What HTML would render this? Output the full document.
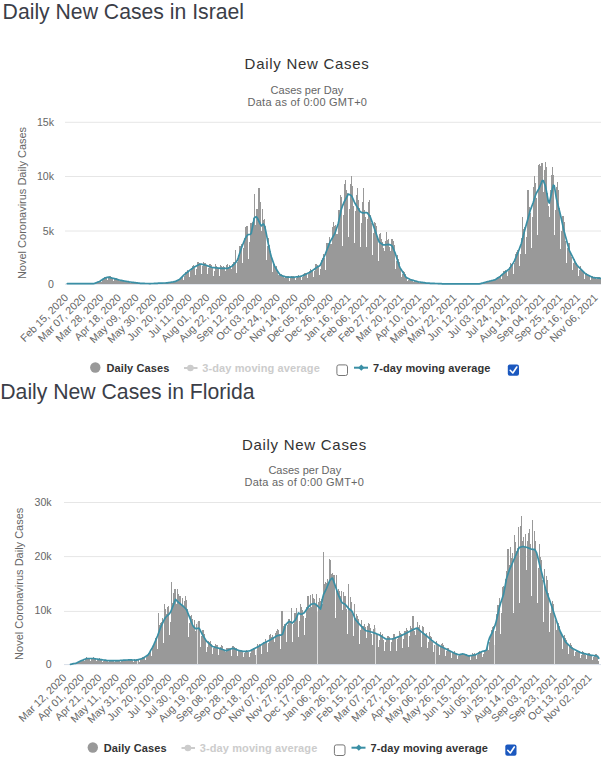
<!DOCTYPE html>
<html><head><meta charset="utf-8">
<style>
html,body{margin:0;padding:0;background:#fff;width:601px;height:768px;overflow:hidden}
svg{display:block;font-family:"Liberation Sans",sans-serif}
.pt{font-size:21.2px;fill:#3b3e48}
.ct{font-size:15px;fill:#333;letter-spacing:0.72px}
.st{font-size:11px;fill:#666}
.yl{font-size:10.6px;fill:#666}
.yt{font-size:11px;fill:#666}
.xl{font-size:10.6px;fill:#666}
.lg{font-size:11px;font-weight:bold;fill:#333;letter-spacing:0.1px}
.lgo{font-size:11px;font-weight:bold;fill:#ccc;letter-spacing:0.1px}
.grid{stroke:#e6e6e6;stroke-width:1}
.bars{fill:#999;shape-rendering:crispEdges}
.ln{fill:none;stroke:#3a8fa5;stroke-width:1.7;stroke-linejoin:round;stroke-linecap:round}
</style></head><body>
<svg width="601" height="768" viewBox="0 0 601 768">
<!-- ISRAEL -->
<text class="pt" x="2.6" y="18.8">Daily New Cases in Israel</text>
<text class="ct" x="307.1" y="69.1" text-anchor="middle">Daily New Cases</text>
<text class="st" x="307" y="93.8" text-anchor="middle">Cases per Day</text>
<text class="st" x="307.4" y="106" text-anchor="middle"><tspan letter-spacing="0.24">Data as of 0:00 GMT+0</tspan></text>
<path class="grid" d="M65 122.3H601M65 176.5H601M65 231H601"/>
<g class="yl" text-anchor="end">
<text x="54" y="126.2">15k</text><text x="54" y="180.4">10k</text><text x="54" y="234.8">5k</text><text x="54" y="287.6">0</text>
</g>
<text class="yt" transform="translate(26 203) rotate(-90)" text-anchor="middle">Novel Coronavirus Daily Cases</text>
<path d="M65 284.2H601" stroke="#d8dee8" stroke-width="1"/>
<path class="bars" d="M67.00 283.59h1.000V283.70h-1.000zM68.00 283.58h1.000V283.70h-1.000zM69.00 283.59h1.000V283.70h-1.000zM70.00 283.59h1.000V283.70h-1.000zM71.00 283.60h1.000V283.70h-1.000zM72.00 283.62h1.000V283.70h-1.000zM73.00 283.58h1.000V283.70h-1.000zM74.00 283.58h1.000V283.70h-1.000zM75.00 283.59h1.000V283.70h-1.000zM76.00 283.58h1.000V283.70h-1.000zM77.00 283.65h1.000V283.70h-1.000zM78.00 283.62h1.000V283.70h-1.000zM79.00 283.58h1.000V283.70h-1.000zM80.00 283.59h1.000V283.70h-1.000zM81.00 283.58h1.000V283.70h-1.000zM82.00 283.60h1.000V283.70h-1.000zM83.00 283.65h1.000V283.70h-1.000zM84.00 283.61h1.000V283.70h-1.000zM85.00 283.59h1.000V283.70h-1.000zM86.00 283.58h1.000V283.70h-1.000zM87.00 283.59h1.000V283.70h-1.000zM88.00 283.61h1.000V283.70h-1.000zM89.00 283.65h1.000V283.70h-1.000zM90.00 283.62h1.000V283.70h-1.000zM91.00 283.58h1.000V283.70h-1.000zM92.00 283.57h1.000V283.70h-1.000zM93.00 283.58h1.000V283.70h-1.000zM94.00 283.35h1.000V283.70h-1.000zM95.00 283.34h1.000V283.70h-1.000zM96.00 282.83h1.000V283.70h-1.000zM97.00 282.02h1.000V283.70h-1.000zM98.00 281.51h1.000V283.70h-1.000zM99.00 281.24h1.000V283.70h-1.000zM100.00 280.97h1.000V283.70h-1.000zM101.00 281.86h1.000V283.70h-1.000zM102.00 280.34h1.000V283.70h-1.000zM103.00 277.74h1.000V283.70h-1.000zM104.00 277.39h1.000V283.70h-1.000zM105.00 277.44h1.000V283.70h-1.000zM106.00 277.74h1.000V283.70h-1.000zM107.00 280.44h1.000V283.70h-1.000zM108.00 277.95h1.000V283.70h-1.000zM109.00 275.98h1.000V283.70h-1.000zM110.00 276.27h1.000V283.70h-1.000zM111.00 276.92h1.000V283.70h-1.000zM112.00 277.64h1.000V283.70h-1.000zM113.00 280.92h1.000V283.70h-1.000zM114.00 277.66h1.000V283.70h-1.000zM115.00 277.61h1.000V283.70h-1.000zM116.00 278.21h1.000V283.70h-1.000zM117.00 278.97h1.000V283.70h-1.000zM118.00 279.55h1.000V283.70h-1.000zM119.00 280.54h1.000V283.70h-1.000zM120.00 279.78h1.000V283.70h-1.000zM121.00 279.97h1.000V283.70h-1.000zM122.00 280.42h1.000V283.70h-1.000zM123.00 280.31h1.000V283.70h-1.000zM124.00 280.72h1.000V283.70h-1.000zM125.00 281.51h1.000V283.70h-1.000zM126.00 281.08h1.000V283.70h-1.000zM127.00 281.25h1.000V283.70h-1.000zM128.00 281.47h1.000V283.70h-1.000zM129.00 281.57h1.000V283.70h-1.000zM130.00 282.96h1.000V283.70h-1.000zM131.00 282.42h1.000V283.70h-1.000zM132.00 282.23h1.000V283.70h-1.000zM133.00 282.13h1.000V283.70h-1.000zM134.00 282.41h1.000V283.70h-1.000zM135.00 282.69h1.000V283.70h-1.000zM136.00 283.29h1.000V283.70h-1.000zM137.00 283.04h1.000V283.70h-1.000zM138.00 283.02h1.000V283.70h-1.000zM139.00 283.14h1.000V283.70h-1.000zM140.00 283.32h1.000V283.70h-1.000zM141.00 283.37h1.000V283.70h-1.000zM142.00 283.54h1.000V283.70h-1.000zM143.00 283.44h1.000V283.70h-1.000zM144.00 283.40h1.000V283.70h-1.000zM145.00 283.43h1.000V283.70h-1.000zM146.00 283.49h1.000V283.70h-1.000zM147.00 283.52h1.000V283.70h-1.000zM148.00 283.62h1.000V283.70h-1.000zM149.00 283.60h1.000V283.70h-1.000zM150.00 283.58h1.000V283.70h-1.000zM151.00 283.49h1.000V283.70h-1.000zM152.00 283.46h1.000V283.70h-1.000zM153.00 283.45h1.000V283.70h-1.000zM154.00 283.56h1.000V283.70h-1.000zM155.00 283.41h1.000V283.70h-1.000zM156.00 283.24h1.000V283.70h-1.000zM157.00 283.19h1.000V283.70h-1.000zM158.00 283.21h1.000V283.70h-1.000zM159.00 283.22h1.000V283.70h-1.000zM160.00 283.41h1.000V283.70h-1.000zM161.00 283.22h1.000V283.70h-1.000zM162.00 282.99h1.000V283.70h-1.000zM163.00 282.93h1.000V283.70h-1.000zM164.00 282.91h1.000V283.70h-1.000zM165.00 283.01h1.000V283.70h-1.000zM166.00 283.30h1.000V283.70h-1.000zM167.00 282.64h1.000V283.70h-1.000zM168.00 282.33h1.000V283.70h-1.000zM169.00 282.27h1.000V283.70h-1.000zM170.00 282.14h1.000V283.70h-1.000zM171.00 282.22h1.000V283.70h-1.000zM172.00 282.14h1.000V283.70h-1.000zM173.00 281.68h1.000V283.70h-1.000zM174.00 281.43h1.000V283.70h-1.000zM175.00 280.97h1.000V283.70h-1.000zM176.00 280.45h1.000V283.70h-1.000zM177.00 280.64h1.000V283.70h-1.000zM178.00 280.20h1.000V283.70h-1.000zM179.00 278.68h1.000V283.70h-1.000zM180.00 277.65h1.000V283.70h-1.000zM181.00 277.01h1.000V283.70h-1.000zM182.00 276.34h1.000V283.70h-1.000zM183.00 279.58h1.000V283.70h-1.000zM184.00 275.90h1.000V283.70h-1.000zM185.00 271.60h1.000V283.70h-1.000zM186.00 271.79h1.000V283.70h-1.000zM187.00 270.47h1.000V283.70h-1.000zM188.00 271.41h1.000V283.70h-1.000zM189.00 277.33h1.000V283.70h-1.000zM190.00 271.26h1.000V283.70h-1.000zM191.00 267.65h1.000V283.70h-1.000zM192.00 266.39h1.000V283.70h-1.000zM193.00 265.08h1.000V283.70h-1.000zM194.00 267.76h1.000V283.70h-1.000zM195.00 275.21h1.000V283.70h-1.000zM196.00 268.91h1.000V283.70h-1.000zM197.00 261.56h1.000V283.70h-1.000zM198.00 261.51h1.000V283.70h-1.000zM199.00 263.42h1.000V283.70h-1.000zM200.00 264.58h1.000V283.70h-1.000zM201.00 273.73h1.000V283.70h-1.000zM202.00 266.28h1.000V283.70h-1.000zM203.00 261.86h1.000V283.70h-1.000zM204.00 263.38h1.000V283.70h-1.000zM205.00 263.15h1.000V283.70h-1.000zM206.00 266.33h1.000V283.70h-1.000zM207.00 274.28h1.000V283.70h-1.000zM208.00 267.89h1.000V283.70h-1.000zM209.00 264.00h1.000V283.70h-1.000zM210.00 263.54h1.000V283.70h-1.000zM211.00 265.26h1.000V283.70h-1.000zM212.00 266.74h1.000V283.70h-1.000zM213.00 275.85h1.000V283.70h-1.000zM214.00 270.90h1.000V283.70h-1.000zM215.00 263.78h1.000V283.70h-1.000zM216.00 266.22h1.000V283.70h-1.000zM217.00 266.86h1.000V283.70h-1.000zM218.00 268.29h1.000V283.70h-1.000zM219.00 276.03h1.000V283.70h-1.000zM220.00 264.80h1.000V283.70h-1.000zM221.00 266.24h1.000V283.70h-1.000zM222.00 267.39h1.000V283.70h-1.000zM223.00 265.56h1.000V283.70h-1.000zM224.00 267.36h1.000V283.70h-1.000zM225.00 270.75h1.000V283.70h-1.000zM226.00 264.71h1.000V283.70h-1.000zM227.00 263.96h1.000V283.70h-1.000zM228.00 266.53h1.000V283.70h-1.000zM229.00 265.30h1.000V283.70h-1.000zM230.00 266.25h1.000V283.70h-1.000zM231.00 268.78h1.000V283.70h-1.000zM232.00 263.68h1.000V283.70h-1.000zM233.00 261.61h1.000V283.70h-1.000zM234.00 261.98h1.000V283.70h-1.000zM235.00 249.90h1.000V283.70h-1.000zM236.00 272.72h1.000V283.70h-1.000zM237.00 262.11h1.000V283.70h-1.000zM238.00 255.19h1.000V283.70h-1.000zM239.00 246.29h1.000V283.70h-1.000zM240.00 245.97h1.000V283.70h-1.000zM241.00 244.49h1.000V283.70h-1.000zM242.00 262.96h1.000V283.70h-1.000zM243.00 248.35h1.000V283.70h-1.000zM244.00 237.91h1.000V283.70h-1.000zM245.00 227.47h1.000V283.70h-1.000zM246.00 225.70h1.000V283.70h-1.000zM247.00 225.80h1.000V283.70h-1.000zM248.00 259.00h1.000V283.70h-1.000zM249.00 242.46h1.000V283.70h-1.000zM250.00 223.15h1.000V283.70h-1.000zM251.00 222.84h1.000V283.70h-1.000zM252.00 222.18h1.000V283.70h-1.000zM253.00 217.65h1.000V283.70h-1.000zM254.00 194.00h1.000V283.70h-1.000zM255.00 224.55h1.000V283.70h-1.000zM256.00 208.56h1.000V283.70h-1.000zM257.00 209.01h1.000V283.70h-1.000zM258.00 187.50h1.000V283.70h-1.000zM259.00 187.50h1.000V283.70h-1.000zM260.00 202.40h1.000V283.70h-1.000zM261.00 231.33h1.000V283.70h-1.000zM262.00 208.81h1.000V283.70h-1.000zM263.00 219.98h1.000V283.70h-1.000zM264.00 219.30h1.000V283.70h-1.000zM265.00 226.22h1.000V283.70h-1.000zM266.00 260.41h1.000V283.70h-1.000zM267.00 246.23h1.000V283.70h-1.000zM268.00 238.36h1.000V283.70h-1.000zM269.00 245.33h1.000V283.70h-1.000zM270.00 250.80h1.000V283.70h-1.000zM271.00 255.67h1.000V283.70h-1.000zM272.00 272.41h1.000V283.70h-1.000zM273.00 262.48h1.000V283.70h-1.000zM274.00 264.07h1.000V283.70h-1.000zM275.00 266.57h1.000V283.70h-1.000zM276.00 266.43h1.000V283.70h-1.000zM277.00 269.76h1.000V283.70h-1.000zM278.00 274.63h1.000V283.70h-1.000zM279.00 273.20h1.000V283.70h-1.000zM280.00 273.72h1.000V283.70h-1.000zM281.00 274.40h1.000V283.70h-1.000zM282.00 274.70h1.000V283.70h-1.000zM283.00 275.89h1.000V283.70h-1.000zM284.00 277.95h1.000V283.70h-1.000zM285.00 276.06h1.000V283.70h-1.000zM286.00 276.17h1.000V283.70h-1.000zM287.00 275.99h1.000V283.70h-1.000zM288.00 276.18h1.000V283.70h-1.000zM289.00 280.65h1.000V283.70h-1.000zM290.00 278.45h1.000V283.70h-1.000zM291.00 276.41h1.000V283.70h-1.000zM292.00 275.85h1.000V283.70h-1.000zM293.00 276.01h1.000V283.70h-1.000zM294.00 276.76h1.000V283.70h-1.000zM295.00 280.27h1.000V283.70h-1.000zM296.00 277.95h1.000V283.70h-1.000zM297.00 275.86h1.000V283.70h-1.000zM298.00 275.22h1.000V283.70h-1.000zM299.00 275.78h1.000V283.70h-1.000zM300.00 276.07h1.000V283.70h-1.000zM301.00 279.95h1.000V283.70h-1.000zM302.00 277.23h1.000V283.70h-1.000zM303.00 274.07h1.000V283.70h-1.000zM304.00 272.91h1.000V283.70h-1.000zM305.00 273.38h1.000V283.70h-1.000zM306.00 273.93h1.000V283.70h-1.000zM307.00 278.25h1.000V283.70h-1.000zM308.00 274.00h1.000V283.70h-1.000zM309.00 271.23h1.000V283.70h-1.000zM310.00 269.18h1.000V283.70h-1.000zM311.00 270.31h1.000V283.70h-1.000zM312.00 270.53h1.000V283.70h-1.000zM313.00 277.20h1.000V283.70h-1.000zM314.00 270.83h1.000V283.70h-1.000zM315.00 263.83h1.000V283.70h-1.000zM316.00 264.22h1.000V283.70h-1.000zM317.00 264.76h1.000V283.70h-1.000zM318.00 265.75h1.000V283.70h-1.000zM319.00 274.77h1.000V283.70h-1.000zM320.00 269.18h1.000V283.70h-1.000zM321.00 259.53h1.000V283.70h-1.000zM322.00 258.01h1.000V283.70h-1.000zM323.00 254.41h1.000V283.70h-1.000zM324.00 258.37h1.000V283.70h-1.000zM325.00 270.05h1.000V283.70h-1.000zM326.00 242.77h1.000V283.70h-1.000zM327.00 243.04h1.000V283.70h-1.000zM328.00 243.45h1.000V283.70h-1.000zM329.00 237.22h1.000V283.70h-1.000zM330.00 244.19h1.000V283.70h-1.000zM331.00 244.37h1.000V283.70h-1.000zM332.00 227.34h1.000V283.70h-1.000zM333.00 221.95h1.000V283.70h-1.000zM334.00 226.09h1.000V283.70h-1.000zM335.00 224.61h1.000V283.70h-1.000zM336.00 233.87h1.000V283.70h-1.000zM337.00 233.53h1.000V283.70h-1.000zM338.00 209.98h1.000V283.70h-1.000zM339.00 209.66h1.000V283.70h-1.000zM340.00 195.00h1.000V283.70h-1.000zM341.00 197.12h1.000V283.70h-1.000zM342.00 245.53h1.000V283.70h-1.000zM343.00 214.58h1.000V283.70h-1.000zM344.00 183.96h1.000V283.70h-1.000zM345.00 180.00h1.000V283.70h-1.000zM346.00 190.31h1.000V283.70h-1.000zM347.00 193.26h1.000V283.70h-1.000zM348.00 237.19h1.000V283.70h-1.000zM349.00 209.38h1.000V283.70h-1.000zM350.00 184.06h1.000V283.70h-1.000zM351.00 176.30h1.000V283.70h-1.000zM352.00 186.23h1.000V283.70h-1.000zM353.00 206.11h1.000V283.70h-1.000zM354.00 243.06h1.000V283.70h-1.000zM355.00 210.86h1.000V283.70h-1.000zM356.00 194.95h1.000V283.70h-1.000zM357.00 187.81h1.000V283.70h-1.000zM358.00 199.73h1.000V283.70h-1.000zM359.00 208.04h1.000V283.70h-1.000zM360.00 246.77h1.000V283.70h-1.000zM361.00 222.82h1.000V283.70h-1.000zM362.00 202.25h1.000V283.70h-1.000zM363.00 188.30h1.000V283.70h-1.000zM364.00 210.06h1.000V283.70h-1.000zM365.00 217.27h1.000V283.70h-1.000zM366.00 246.73h1.000V283.70h-1.000zM367.00 219.30h1.000V283.70h-1.000zM368.00 202.06h1.000V283.70h-1.000zM369.00 200.00h1.000V283.70h-1.000zM370.00 214.86h1.000V283.70h-1.000zM371.00 222.52h1.000V283.70h-1.000zM372.00 254.58h1.000V283.70h-1.000zM373.00 233.00h1.000V283.70h-1.000zM374.00 221.54h1.000V283.70h-1.000zM375.00 222.50h1.000V283.70h-1.000zM376.00 225.71h1.000V283.70h-1.000zM377.00 238.56h1.000V283.70h-1.000zM378.00 260.88h1.000V283.70h-1.000zM379.00 233.75h1.000V283.70h-1.000zM380.00 233.20h1.000V283.70h-1.000zM381.00 239.48h1.000V283.70h-1.000zM382.00 242.37h1.000V283.70h-1.000zM383.00 247.89h1.000V283.70h-1.000zM384.00 251.27h1.000V283.70h-1.000zM385.00 241.23h1.000V283.70h-1.000zM386.00 232.40h1.000V283.70h-1.000zM387.00 239.95h1.000V283.70h-1.000zM388.00 238.63h1.000V283.70h-1.000zM389.00 246.77h1.000V283.70h-1.000zM390.00 250.99h1.000V283.70h-1.000zM391.00 238.93h1.000V283.70h-1.000zM392.00 239.41h1.000V283.70h-1.000zM393.00 241.17h1.000V283.70h-1.000zM394.00 245.41h1.000V283.70h-1.000zM395.00 269.43h1.000V283.70h-1.000zM396.00 260.86h1.000V283.70h-1.000zM397.00 255.37h1.000V283.70h-1.000zM398.00 259.32h1.000V283.70h-1.000zM399.00 262.24h1.000V283.70h-1.000zM400.00 269.14h1.000V283.70h-1.000zM401.00 277.35h1.000V283.70h-1.000zM402.00 274.00h1.000V283.70h-1.000zM403.00 271.13h1.000V283.70h-1.000zM404.00 272.35h1.000V283.70h-1.000zM405.00 274.02h1.000V283.70h-1.000zM406.00 278.08h1.000V283.70h-1.000zM407.00 281.12h1.000V283.70h-1.000zM408.00 279.62h1.000V283.70h-1.000zM409.00 278.71h1.000V283.70h-1.000zM410.00 278.54h1.000V283.70h-1.000zM411.00 279.37h1.000V283.70h-1.000zM412.00 280.37h1.000V283.70h-1.000zM413.00 281.99h1.000V283.70h-1.000zM414.00 281.23h1.000V283.70h-1.000zM415.00 280.56h1.000V283.70h-1.000zM416.00 281.23h1.000V283.70h-1.000zM417.00 281.58h1.000V283.70h-1.000zM418.00 281.74h1.000V283.70h-1.000zM419.00 282.86h1.000V283.70h-1.000zM420.00 282.37h1.000V283.70h-1.000zM421.00 282.05h1.000V283.70h-1.000zM422.00 282.43h1.000V283.70h-1.000zM423.00 282.55h1.000V283.70h-1.000zM424.00 282.77h1.000V283.70h-1.000zM425.00 283.30h1.000V283.70h-1.000zM426.00 283.15h1.000V283.70h-1.000zM427.00 282.99h1.000V283.70h-1.000zM428.00 283.12h1.000V283.70h-1.000zM429.00 283.17h1.000V283.70h-1.000zM430.00 283.28h1.000V283.70h-1.000zM431.00 283.50h1.000V283.70h-1.000zM432.00 283.34h1.000V283.70h-1.000zM433.00 283.31h1.000V283.70h-1.000zM434.00 283.37h1.000V283.70h-1.000zM435.00 283.46h1.000V283.70h-1.000zM436.00 283.49h1.000V283.70h-1.000zM437.00 283.59h1.000V283.70h-1.000zM438.00 283.59h1.000V283.70h-1.000zM439.00 283.63h1.000V283.70h-1.000zM480.00 283.51h1.000V283.70h-1.000zM481.00 283.27h1.000V283.70h-1.000zM482.00 282.99h1.000V283.70h-1.000zM483.00 282.90h1.000V283.70h-1.000zM484.00 283.18h1.000V283.70h-1.000zM485.00 282.03h1.000V283.70h-1.000zM486.00 281.47h1.000V283.70h-1.000zM487.00 281.30h1.000V283.70h-1.000zM488.00 281.36h1.000V283.70h-1.000zM489.00 281.37h1.000V283.70h-1.000zM490.00 281.16h1.000V283.70h-1.000zM491.00 279.97h1.000V283.70h-1.000zM492.00 279.59h1.000V283.70h-1.000zM493.00 279.61h1.000V283.70h-1.000zM494.00 279.84h1.000V283.70h-1.000zM495.00 279.80h1.000V283.70h-1.000zM496.00 279.40h1.000V283.70h-1.000zM497.00 277.22h1.000V283.70h-1.000zM498.00 276.71h1.000V283.70h-1.000zM499.00 276.36h1.000V283.70h-1.000zM500.00 275.32h1.000V283.70h-1.000zM501.00 279.11h1.000V283.70h-1.000zM502.00 275.13h1.000V283.70h-1.000zM503.00 271.09h1.000V283.70h-1.000zM504.00 270.79h1.000V283.70h-1.000zM505.00 270.26h1.000V283.70h-1.000zM506.00 270.58h1.000V283.70h-1.000zM507.00 276.45h1.000V283.70h-1.000zM508.00 271.36h1.000V283.70h-1.000zM509.00 267.06h1.000V283.70h-1.000zM510.00 263.13h1.000V283.70h-1.000zM511.00 263.68h1.000V283.70h-1.000zM512.00 263.01h1.000V283.70h-1.000zM513.00 273.94h1.000V283.70h-1.000zM514.00 263.31h1.000V283.70h-1.000zM515.00 254.30h1.000V283.70h-1.000zM516.00 251.52h1.000V283.70h-1.000zM517.00 250.13h1.000V283.70h-1.000zM518.00 252.38h1.000V283.70h-1.000zM519.00 266.02h1.000V283.70h-1.000zM520.00 254.22h1.000V283.70h-1.000zM521.00 238.03h1.000V283.70h-1.000zM522.00 216.50h1.000V283.70h-1.000zM523.00 228.56h1.000V283.70h-1.000zM524.00 226.95h1.000V283.70h-1.000zM525.00 254.03h1.000V283.70h-1.000zM526.00 236.62h1.000V283.70h-1.000zM527.00 190.10h1.000V283.70h-1.000zM528.00 190.10h1.000V283.70h-1.000zM529.00 207.45h1.000V283.70h-1.000zM530.00 213.11h1.000V283.70h-1.000zM531.00 248.27h1.000V283.70h-1.000zM532.00 216.77h1.000V283.70h-1.000zM533.00 187.10h1.000V283.70h-1.000zM534.00 176.40h1.000V283.70h-1.000zM535.00 183.19h1.000V283.70h-1.000zM536.00 198.42h1.000V283.70h-1.000zM537.00 235.07h1.000V283.70h-1.000zM538.00 164.60h1.000V283.70h-1.000zM539.00 163.73h1.000V283.70h-1.000zM540.00 165.76h1.000V283.70h-1.000zM541.00 163.10h1.000V283.70h-1.000zM542.00 163.10h1.000V283.70h-1.000zM543.00 192.31h1.000V283.70h-1.000zM544.00 170.49h1.000V283.70h-1.000zM545.00 162.20h1.000V283.70h-1.000zM546.00 167.30h1.000V283.70h-1.000zM547.00 192.92h1.000V283.70h-1.000zM548.00 206.41h1.000V283.70h-1.000zM549.00 216.66h1.000V283.70h-1.000zM550.00 189.64h1.000V283.70h-1.000zM551.00 175.46h1.000V283.70h-1.000zM552.00 167.30h1.000V283.70h-1.000zM553.00 175.33h1.000V283.70h-1.000zM554.00 235.26h1.000V283.70h-1.000zM555.00 209.99h1.000V283.70h-1.000zM556.00 187.15h1.000V283.70h-1.000zM557.00 182.36h1.000V283.70h-1.000zM558.00 190.10h1.000V283.70h-1.000zM559.00 207.99h1.000V283.70h-1.000zM560.00 248.75h1.000V283.70h-1.000zM561.00 230.72h1.000V283.70h-1.000zM562.00 216.29h1.000V283.70h-1.000zM563.00 216.16h1.000V283.70h-1.000zM564.00 222.45h1.000V283.70h-1.000zM565.00 241.08h1.000V283.70h-1.000zM566.00 263.09h1.000V283.70h-1.000zM567.00 248.03h1.000V283.70h-1.000zM568.00 243.49h1.000V283.70h-1.000zM569.00 243.16h1.000V283.70h-1.000zM570.00 251.85h1.000V283.70h-1.000zM571.00 256.53h1.000V283.70h-1.000zM572.00 270.41h1.000V283.70h-1.000zM573.00 263.32h1.000V283.70h-1.000zM574.00 258.58h1.000V283.70h-1.000zM575.00 261.63h1.000V283.70h-1.000zM576.00 263.17h1.000V283.70h-1.000zM577.00 267.11h1.000V283.70h-1.000zM578.00 275.84h1.000V283.70h-1.000zM579.00 270.07h1.000V283.70h-1.000zM580.00 265.75h1.000V283.70h-1.000zM581.00 269.14h1.000V283.70h-1.000zM582.00 269.83h1.000V283.70h-1.000zM583.00 271.94h1.000V283.70h-1.000zM584.00 278.56h1.000V283.70h-1.000zM585.00 274.31h1.000V283.70h-1.000zM586.00 273.43h1.000V283.70h-1.000zM587.00 273.69h1.000V283.70h-1.000zM588.00 275.03h1.000V283.70h-1.000zM589.00 275.63h1.000V283.70h-1.000zM590.00 280.04h1.000V283.70h-1.000zM591.00 276.58h1.000V283.70h-1.000zM592.00 275.92h1.000V283.70h-1.000zM593.00 277.00h1.000V283.70h-1.000zM594.00 276.84h1.000V283.70h-1.000zM595.00 277.85h1.000V283.70h-1.000zM596.00 279.00h1.000V283.70h-1.000zM597.00 277.49h1.000V283.70h-1.000zM598.00 277.30h1.000V283.70h-1.000zM599.00 277.11h1.000V283.70h-1.000zM600.00 277.67h1.000V283.70h-1.000z"/>
<path class="ln" d="M67.3 283.6 L68.3 283.6 L69.3 283.6 L70.3 283.6 L71.3 283.6 L72.3 283.6 L73.3 283.6 L74.3 283.6 L75.3 283.6 L76.3 283.6 L77.3 283.6 L78.3 283.6 L79.3 283.6 L80.3 283.6 L81.3 283.6 L82.3 283.6 L83.3 283.6 L84.3 283.6 L85.3 283.6 L86.3 283.6 L87.3 283.6 L88.3 283.6 L89.3 283.6 L90.3 283.6 L91.3 283.6 L92.3 283.6 L93.3 283.6 L94.3 283.5 L95.3 283.1 L96.3 282.7 L97.3 282.3 L98.3 281.9 L99.3 281.5 L100.3 281.0 L101.3 280.3 L102.3 279.6 L103.3 279.0 L104.3 278.4 L105.3 278.0 L106.3 277.6 L107.3 277.3 L108.3 277.1 L109.3 277.3 L110.3 277.6 L111.3 277.8 L112.3 278.1 L113.3 278.3 L114.3 278.6 L115.3 278.9 L116.3 279.2 L117.3 279.4 L118.3 279.7 L119.3 280.0 L120.3 280.3 L121.3 280.4 L122.3 280.6 L123.3 280.8 L124.3 281.0 L125.3 281.2 L126.3 281.3 L127.3 281.5 L128.3 281.7 L129.3 281.9 L130.3 282.0 L131.3 282.2 L132.3 282.3 L133.3 282.4 L134.3 282.6 L135.3 282.7 L136.3 282.8 L137.3 282.9 L138.3 283.1 L139.3 283.2 L140.3 283.3 L141.3 283.3 L142.3 283.4 L143.3 283.4 L144.3 283.4 L145.3 283.5 L146.3 283.5 L147.3 283.5 L148.3 283.5 L149.3 283.6 L150.3 283.6 L151.3 283.5 L152.3 283.5 L153.3 283.5 L154.3 283.4 L155.3 283.4 L156.3 283.3 L157.3 283.3 L158.3 283.2 L159.3 283.2 L160.3 283.2 L161.3 283.1 L162.3 283.1 L163.3 283.0 L164.3 283.0 L165.3 283.0 L166.3 282.9 L167.3 282.8 L168.3 282.6 L169.3 282.5 L170.3 282.3 L171.3 282.2 L172.3 282.0 L173.3 281.9 L174.3 281.7 L175.3 281.4 L176.3 280.9 L177.3 280.4 L178.3 279.9 L179.3 279.4 L180.3 278.7 L181.3 277.7 L182.3 276.7 L183.3 275.7 L184.3 274.7 L185.3 273.8 L186.3 273.0 L187.3 272.2 L188.3 271.5 L189.3 270.7 L190.3 269.9 L191.3 269.2 L192.3 268.5 L193.3 267.7 L194.3 267.0 L195.3 266.4 L196.3 265.9 L197.3 265.4 L198.3 264.9 L199.3 264.5 L200.3 264.0 L201.3 264.2 L202.3 264.4 L203.3 264.6 L204.3 264.8 L205.3 265.0 L206.3 265.3 L207.3 265.7 L208.3 266.1 L209.3 266.5 L210.3 266.8 L211.3 267.2 L212.3 267.5 L213.3 267.6 L214.3 267.7 L215.3 267.8 L216.3 267.9 L217.3 268.0 L218.3 268.1 L219.3 268.2 L220.3 268.3 L221.3 268.3 L222.3 268.3 L223.3 268.3 L224.3 268.3 L225.3 268.3 L226.3 268.3 L227.3 268.3 L228.3 268.1 L229.3 267.6 L230.3 267.0 L231.3 266.5 L232.3 265.9 L233.3 265.0 L234.3 263.9 L235.3 262.9 L236.3 261.7 L237.3 260.3 L238.3 257.6 L239.3 254.6 L240.3 251.5 L241.3 248.5 L242.3 245.8 L243.3 243.2 L244.3 240.7 L245.3 238.5 L246.3 236.8 L247.3 235.2 L248.3 234.5 L249.3 234.5 L250.3 234.5 L251.3 233.0 L252.3 228.0 L253.3 223.0 L254.3 218.0 L255.3 217.1 L256.3 216.7 L257.3 218.0 L258.3 220.0 L259.3 222.0 L260.3 224.1 L261.3 225.9 L262.3 224.9 L263.3 224.0 L264.3 225.3 L265.3 228.9 L266.3 233.7 L267.3 238.9 L268.3 243.8 L269.3 248.4 L270.3 252.9 L271.3 256.8 L272.3 259.6 L273.3 262.5 L274.3 265.4 L275.3 267.3 L276.3 269.0 L277.3 270.7 L278.3 272.2 L279.3 273.7 L280.3 275.0 L281.3 275.4 L282.3 275.7 L283.3 276.1 L284.3 276.4 L285.3 276.8 L286.3 277.0 L287.3 277.1 L288.3 277.1 L289.3 277.1 L290.3 277.2 L291.3 277.2 L292.3 277.3 L293.3 277.3 L294.3 277.2 L295.3 277.0 L296.3 276.9 L297.3 276.8 L298.3 276.6 L299.3 276.5 L300.3 276.4 L301.3 276.2 L302.3 275.8 L303.3 275.4 L304.3 274.9 L305.3 274.4 L306.3 274.0 L307.3 273.5 L308.3 273.0 L309.3 272.6 L310.3 272.0 L311.3 271.3 L312.3 270.6 L313.3 269.9 L314.3 269.2 L315.3 268.5 L316.3 267.8 L317.3 267.1 L318.3 266.5 L319.3 266.0 L320.3 265.1 L321.3 262.9 L322.3 260.7 L323.3 258.6 L324.3 256.4 L325.3 254.1 L326.3 251.5 L327.3 249.0 L328.3 246.4 L329.3 243.8 L330.3 241.5 L331.3 239.7 L332.3 238.0 L333.3 236.2 L334.3 234.4 L335.3 232.3 L336.3 229.3 L337.3 226.2 L338.3 223.2 L339.3 218.6 L340.3 214.0 L341.3 209.4 L342.3 206.4 L343.3 204.1 L344.3 201.7 L345.3 199.8 L346.3 197.9 L347.3 196.0 L348.3 194.1 L349.3 194.6 L350.3 195.1 L351.3 195.6 L352.3 197.3 L353.3 199.6 L354.3 201.8 L355.3 203.8 L356.3 205.5 L357.3 207.1 L358.3 208.8 L359.3 210.4 L360.3 211.8 L361.3 212.2 L362.3 212.8 L363.3 212.9 L364.3 212.8 L365.3 212.7 L366.3 212.6 L367.3 212.8 L368.3 214.2 L369.3 215.6 L370.3 217.0 L371.3 219.8 L372.3 222.6 L373.3 225.4 L374.3 228.2 L375.3 231.1 L376.3 234.0 L377.3 237.0 L378.3 239.9 L379.3 242.2 L380.3 242.9 L381.3 243.6 L382.3 244.3 L383.3 245.0 L384.3 244.9 L385.3 244.8 L386.3 244.7 L387.3 244.6 L388.3 244.4 L389.3 244.6 L390.3 244.9 L391.3 245.3 L392.3 246.2 L393.3 248.6 L394.3 251.0 L395.3 253.4 L396.3 256.6 L397.3 259.7 L398.3 262.9 L399.3 266.1 L400.3 268.1 L401.3 269.7 L402.3 271.4 L403.3 273.0 L404.3 274.6 L405.3 276.2 L406.3 277.6 L407.3 278.1 L408.3 278.6 L409.3 279.1 L410.3 279.6 L411.3 279.9 L412.3 280.1 L413.3 280.4 L414.3 280.7 L415.3 281.0 L416.3 281.2 L417.3 281.5 L418.3 281.8 L419.3 282.0 L420.3 282.1 L421.3 282.3 L422.3 282.4 L423.3 282.6 L424.3 282.7 L425.3 282.9 L426.3 283.1 L427.3 283.1 L428.3 283.2 L429.3 283.2 L430.3 283.3 L431.3 283.3 L432.3 283.3 L433.3 283.4 L434.3 283.4 L435.3 283.5 L436.3 283.5 L437.3 283.5 L438.3 283.6 L439.3 283.6 L440.3 283.7 L441.3 283.7 L442.3 283.8 L443.3 283.8 L444.3 283.8 L445.3 283.8 L446.3 283.8 L447.3 283.8 L448.3 283.8 L449.3 283.8 L450.3 283.8 L451.3 283.8 L452.3 283.8 L453.3 283.8 L454.3 283.8 L455.3 283.8 L456.3 283.8 L457.3 283.8 L458.3 283.8 L459.3 283.8 L460.3 283.8 L461.3 283.8 L462.3 283.8 L463.3 283.8 L464.3 283.8 L465.3 283.8 L466.3 283.8 L467.3 283.8 L468.3 283.8 L469.3 283.8 L470.3 283.8 L471.3 283.8 L472.3 283.8 L473.3 283.8 L474.3 283.8 L475.3 283.8 L476.3 283.8 L477.3 283.8 L478.3 283.8 L479.3 283.8 L480.3 283.7 L481.3 283.4 L482.3 283.1 L483.3 282.9 L484.3 282.6 L485.3 282.3 L486.3 282.0 L487.3 281.7 L488.3 281.5 L489.3 281.2 L490.3 281.0 L491.3 280.7 L492.3 280.5 L493.3 280.2 L494.3 280.0 L495.3 279.6 L496.3 279.0 L497.3 278.3 L498.3 277.7 L499.3 277.1 L500.3 276.3 L501.3 275.4 L502.3 274.5 L503.3 273.7 L504.3 272.8 L505.3 272.0 L506.3 271.3 L507.3 270.5 L508.3 269.8 L509.3 268.9 L510.3 267.4 L511.3 265.9 L512.3 264.4 L513.3 262.9 L514.3 261.1 L515.3 258.8 L516.3 256.5 L517.3 254.2 L518.3 251.7 L519.3 249.0 L520.3 246.4 L521.3 243.7 L522.3 239.8 L523.3 235.7 L524.3 231.7 L525.3 228.2 L526.3 224.6 L527.3 221.1 L528.3 217.5 L529.3 213.9 L530.3 210.3 L531.3 207.6 L532.3 205.0 L533.3 202.3 L534.3 199.1 L535.3 195.7 L536.3 193.2 L537.3 191.5 L538.3 189.8 L539.3 188.0 L540.3 185.5 L541.3 183.0 L542.3 180.5 L543.3 180.5 L544.3 183.1 L545.3 185.7 L546.3 190.4 L547.3 195.9 L548.3 201.4 L549.3 203.0 L550.3 198.6 L551.3 194.2 L552.3 189.7 L553.3 185.1 L554.3 185.8 L555.3 191.9 L556.3 198.0 L557.3 202.4 L558.3 206.3 L559.3 210.2 L560.3 214.3 L561.3 218.8 L562.3 223.4 L563.3 227.9 L564.3 232.0 L565.3 235.7 L566.3 239.3 L567.3 243.0 L568.3 246.6 L569.3 250.3 L570.3 252.3 L571.3 254.3 L572.3 256.3 L573.3 258.3 L574.3 260.3 L575.3 262.3 L576.3 264.3 L577.3 265.6 L578.3 266.6 L579.3 267.6 L580.3 268.6 L581.3 269.6 L582.3 270.6 L583.3 271.6 L584.3 272.6 L585.3 273.6 L586.3 274.3 L587.3 274.8 L588.3 275.3 L589.3 275.8 L590.3 276.3 L591.3 276.8 L592.3 277.3 L593.3 277.6 L594.3 277.7 L595.3 277.8 L596.3 277.9 L597.3 278.0 L598.3 278.1 L599.3 278.2 L600.3 278.3 L601.0 278.4"/>
<g class="xl"><text transform="translate(68.80 298.30) rotate(-45)" text-anchor="end">Feb 15, 2020</text><text transform="translate(86.46 298.30) rotate(-45)" text-anchor="end">Mar 07, 2020</text><text transform="translate(104.11 298.30) rotate(-45)" text-anchor="end">Mar 28, 2020</text><text transform="translate(121.77 298.30) rotate(-45)" text-anchor="end">Apr 18, 2020</text><text transform="translate(139.43 298.30) rotate(-45)" text-anchor="end">May 09, 2020</text><text transform="translate(157.08 298.30) rotate(-45)" text-anchor="end">May 30, 2020</text><text transform="translate(174.74 298.30) rotate(-45)" text-anchor="end">Jun 20, 2020</text><text transform="translate(192.40 298.30) rotate(-45)" text-anchor="end">Jul 11, 2020</text><text transform="translate(210.06 298.30) rotate(-45)" text-anchor="end">Aug 01, 2020</text><text transform="translate(227.71 298.30) rotate(-45)" text-anchor="end">Aug 22, 2020</text><text transform="translate(245.37 298.30) rotate(-45)" text-anchor="end">Sep 12, 2020</text><text transform="translate(263.03 298.30) rotate(-45)" text-anchor="end">Oct 03, 2020</text><text transform="translate(280.68 298.30) rotate(-45)" text-anchor="end">Oct 24, 2020</text><text transform="translate(298.34 298.30) rotate(-45)" text-anchor="end">Nov 14, 2020</text><text transform="translate(316.00 298.30) rotate(-45)" text-anchor="end">Dec 05, 2020</text><text transform="translate(333.66 298.30) rotate(-45)" text-anchor="end">Dec 26, 2020</text><text transform="translate(351.31 298.30) rotate(-45)" text-anchor="end">Jan 16, 2021</text><text transform="translate(368.97 298.30) rotate(-45)" text-anchor="end">Feb 06, 2021</text><text transform="translate(386.63 298.30) rotate(-45)" text-anchor="end">Feb 27, 2021</text><text transform="translate(404.28 298.30) rotate(-45)" text-anchor="end">Mar 20, 2021</text><text transform="translate(421.94 298.30) rotate(-45)" text-anchor="end">Apr 10, 2021</text><text transform="translate(439.60 298.30) rotate(-45)" text-anchor="end">May 01, 2021</text><text transform="translate(457.25 298.30) rotate(-45)" text-anchor="end">May 22, 2021</text><text transform="translate(474.91 298.30) rotate(-45)" text-anchor="end">Jun 12, 2021</text><text transform="translate(492.57 298.30) rotate(-45)" text-anchor="end">Jul 03, 2021</text><text transform="translate(510.23 298.30) rotate(-45)" text-anchor="end">Jul 24, 2021</text><text transform="translate(527.88 298.30) rotate(-45)" text-anchor="end">Aug 14, 2021</text><text transform="translate(545.54 298.30) rotate(-45)" text-anchor="end">Sep 04, 2021</text><text transform="translate(563.20 298.30) rotate(-45)" text-anchor="end">Sep 25, 2021</text><text transform="translate(580.85 298.30) rotate(-45)" text-anchor="end">Oct 16, 2021</text><text transform="translate(598.51 298.30) rotate(-45)" text-anchor="end">Nov 06, 2021</text></g>
<g>
<circle cx="95.3" cy="367.5" r="5.2" fill="#999"/>
<text class="lg" x="106.5" y="371.9" letter-spacing="-0.05">Daily Cases</text>
<path d="M184 368H197.5" stroke="#ccc" stroke-width="2"/><circle cx="190.4" cy="368" r="3.3" fill="#ccc"/>
<text class="lgo" x="202.3" y="371.9">3-day moving average</text>
<rect x="336.9" y="364.9" width="10.6" height="10.6" rx="2" fill="#fff" stroke="#777" stroke-width="1"/>
<path d="M354 367.7H368" stroke="#3a8fa5" stroke-width="2"/><path d="M361.3 364.6L364.4 367.7L361.3 370.8L358.2 367.7Z" fill="#3a8fa5"/>
<text class="lg" x="373" y="371.9">7-day moving average</text>
<rect x="507.8" y="364.6" width="11.2" height="11.2" rx="2" fill="#1b58bf"/>
<path d="M510.2 370.3L512.8 373L516.8 367" fill="none" stroke="#fff" stroke-width="1.6" stroke-linecap="round" stroke-linejoin="round"/>
</g>
<!-- FLORIDA -->
<text class="pt" x="0.3" y="398.8">Daily New Cases in Florida</text>
<text class="ct" x="304.4" y="449.5" text-anchor="middle">Daily New Cases</text>
<text class="st" x="304.8" y="473.8" text-anchor="middle">Cases per Day</text>
<text class="st" x="304.3" y="485.6" text-anchor="middle"><tspan letter-spacing="0.24">Data as of 0:00 GMT+0</tspan></text>
<path class="grid" d="M64 502.5H601M64 556.6H601M64 611.4H601"/>
<g class="yl" text-anchor="end">
<text x="51.6" y="505.9">30k</text><text x="51.6" y="560.4">20k</text><text x="51.6" y="614.2">10k</text><text x="51.6" y="668">0</text>
</g>
<text class="yt" transform="translate(23 583.8) rotate(-90)" text-anchor="middle">Novel Coronavirus Daily Cases</text>
<path d="M64 664.6H601" stroke="#d8dee8" stroke-width="1"/>
<path class="bars" d="M71.00 664.17h1.000V664.30h-1.000zM72.00 663.99h1.000V664.30h-1.000zM73.00 663.67h1.000V664.30h-1.000zM74.00 663.36h1.000V664.30h-1.000zM75.00 663.22h1.000V664.30h-1.000zM76.00 663.00h1.000V664.30h-1.000zM77.00 662.95h1.000V664.30h-1.000zM78.00 662.37h1.000V664.30h-1.000zM79.00 661.25h1.000V664.30h-1.000zM80.00 660.58h1.000V664.30h-1.000zM81.00 660.64h1.000V664.30h-1.000zM82.00 660.22h1.000V664.30h-1.000zM83.00 660.04h1.000V664.30h-1.000zM84.00 661.48h1.000V664.30h-1.000zM85.00 658.69h1.000V664.30h-1.000zM86.00 657.23h1.000V664.30h-1.000zM87.00 658.27h1.000V664.30h-1.000zM88.00 657.89h1.000V664.30h-1.000zM89.00 658.83h1.000V664.30h-1.000zM90.00 661.43h1.000V664.30h-1.000zM91.00 658.82h1.000V664.30h-1.000zM92.00 658.01h1.000V664.30h-1.000zM93.00 657.25h1.000V664.30h-1.000zM94.00 657.79h1.000V664.30h-1.000zM95.00 658.95h1.000V664.30h-1.000zM96.00 661.09h1.000V664.30h-1.000zM97.00 659.68h1.000V664.30h-1.000zM98.00 658.52h1.000V664.30h-1.000zM99.00 658.44h1.000V664.30h-1.000zM100.00 659.04h1.000V664.30h-1.000zM101.00 659.19h1.000V664.30h-1.000zM102.00 661.65h1.000V664.30h-1.000zM103.00 660.63h1.000V664.30h-1.000zM104.00 659.77h1.000V664.30h-1.000zM105.00 659.88h1.000V664.30h-1.000zM106.00 660.46h1.000V664.30h-1.000zM107.00 660.60h1.000V664.30h-1.000zM108.00 662.22h1.000V664.30h-1.000zM109.00 661.37h1.000V664.30h-1.000zM110.00 660.09h1.000V664.30h-1.000zM111.00 660.18h1.000V664.30h-1.000zM112.00 660.31h1.000V664.30h-1.000zM113.00 660.54h1.000V664.30h-1.000zM114.00 662.34h1.000V664.30h-1.000zM115.00 661.06h1.000V664.30h-1.000zM116.00 660.06h1.000V664.30h-1.000zM117.00 660.42h1.000V664.30h-1.000zM118.00 659.76h1.000V664.30h-1.000zM119.00 660.63h1.000V664.30h-1.000zM120.00 662.02h1.000V664.30h-1.000zM121.00 661.17h1.000V664.30h-1.000zM122.00 659.65h1.000V664.30h-1.000zM123.00 659.76h1.000V664.30h-1.000zM124.00 659.61h1.000V664.30h-1.000zM125.00 660.23h1.000V664.30h-1.000zM126.00 660.37h1.000V664.30h-1.000zM127.00 660.11h1.000V664.30h-1.000zM128.00 659.73h1.000V664.30h-1.000zM129.00 658.89h1.000V664.30h-1.000zM130.00 658.87h1.000V664.30h-1.000zM131.00 659.11h1.000V664.30h-1.000zM132.00 659.99h1.000V664.30h-1.000zM133.00 662.00h1.000V664.30h-1.000zM134.00 659.43h1.000V664.30h-1.000zM135.00 659.90h1.000V664.30h-1.000zM136.00 659.44h1.000V664.30h-1.000zM138.00 659.21h1.000V664.30h-1.000zM139.00 661.85h1.000V664.30h-1.000zM140.00 659.34h1.000V664.30h-1.000zM141.00 657.96h1.000V664.30h-1.000zM142.00 657.48h1.000V664.30h-1.000zM143.00 656.84h1.000V664.30h-1.000zM144.00 657.42h1.000V664.30h-1.000zM145.00 659.79h1.000V664.30h-1.000zM146.00 657.05h1.000V664.30h-1.000zM147.00 655.03h1.000V664.30h-1.000zM148.00 653.16h1.000V664.30h-1.000zM149.00 652.29h1.000V664.30h-1.000zM150.00 651.35h1.000V664.30h-1.000zM151.00 655.64h1.000V664.30h-1.000zM152.00 648.16h1.000V664.30h-1.000zM153.00 645.64h1.000V664.30h-1.000zM154.00 643.13h1.000V664.30h-1.000zM155.00 637.77h1.000V664.30h-1.000zM156.00 637.79h1.000V664.30h-1.000zM157.00 649.39h1.000V664.30h-1.000zM158.00 613.20h1.000V664.30h-1.000zM159.00 625.08h1.000V664.30h-1.000zM160.00 623.39h1.000V664.30h-1.000zM161.00 622.15h1.000V664.30h-1.000zM162.00 618.14h1.000V664.30h-1.000zM163.00 642.59h1.000V664.30h-1.000zM164.00 603.50h1.000V664.30h-1.000zM165.00 609.35h1.000V664.30h-1.000zM166.00 613.56h1.000V664.30h-1.000zM167.00 607.46h1.000V664.30h-1.000zM168.00 606.19h1.000V664.30h-1.000zM169.00 634.59h1.000V664.30h-1.000zM170.00 621.64h1.000V664.30h-1.000zM171.00 582.30h1.000V664.30h-1.000zM172.00 603.35h1.000V664.30h-1.000zM173.00 593.44h1.000V664.30h-1.000zM174.00 589.00h1.000V664.30h-1.000zM175.00 589.00h1.000V664.30h-1.000zM176.00 604.37h1.000V664.30h-1.000zM177.00 588.70h1.000V664.30h-1.000zM178.00 593.81h1.000V664.30h-1.000zM179.00 595.99h1.000V664.30h-1.000zM180.00 596.05h1.000V664.30h-1.000zM181.00 603.65h1.000V664.30h-1.000zM182.00 598.40h1.000V664.30h-1.000zM183.00 605.60h1.000V664.30h-1.000zM184.00 600.87h1.000V664.30h-1.000zM185.00 595.86h1.000V664.30h-1.000zM186.00 599.86h1.000V664.30h-1.000zM187.00 609.42h1.000V664.30h-1.000zM188.00 636.63h1.000V664.30h-1.000zM189.00 623.30h1.000V664.30h-1.000zM190.00 616.32h1.000V664.30h-1.000zM191.00 615.25h1.000V664.30h-1.000zM192.00 618.85h1.000V664.30h-1.000zM193.00 627.01h1.000V664.30h-1.000zM194.00 619.50h1.000V664.30h-1.000zM195.00 630.95h1.000V664.30h-1.000zM196.00 623.61h1.000V664.30h-1.000zM198.00 621.20h1.000V664.30h-1.000zM199.00 621.20h1.000V664.30h-1.000zM200.00 646.70h1.000V664.30h-1.000zM201.00 636.46h1.000V664.30h-1.000zM202.00 629.55h1.000V664.30h-1.000zM203.00 630.30h1.000V664.30h-1.000zM204.00 634.09h1.000V664.30h-1.000zM205.00 638.78h1.000V664.30h-1.000zM206.00 651.51h1.000V664.30h-1.000zM207.00 646.76h1.000V664.30h-1.000zM208.00 640.61h1.000V664.30h-1.000zM209.00 641.81h1.000V664.30h-1.000zM210.00 641.34h1.000V664.30h-1.000zM211.00 644.44h1.000V664.30h-1.000zM212.00 654.30h1.000V664.30h-1.000zM213.00 648.04h1.000V664.30h-1.000zM214.00 645.93h1.000V664.30h-1.000zM215.00 644.19h1.000V664.30h-1.000zM216.00 644.61h1.000V664.30h-1.000zM217.00 645.24h1.000V664.30h-1.000zM218.00 654.82h1.000V664.30h-1.000zM219.00 649.31h1.000V664.30h-1.000zM220.00 646.57h1.000V664.30h-1.000zM221.00 645.15h1.000V664.30h-1.000zM222.00 646.11h1.000V664.30h-1.000zM223.00 648.53h1.000V664.30h-1.000zM224.00 649.70h1.000V664.30h-1.000zM225.00 651.55h1.000V664.30h-1.000zM226.00 647.85h1.000V664.30h-1.000zM227.00 648.19h1.000V664.30h-1.000zM228.00 647.56h1.000V664.30h-1.000zM229.00 647.71h1.000V664.30h-1.000zM230.00 648.26h1.000V664.30h-1.000zM231.00 656.41h1.000V664.30h-1.000zM232.00 646.42h1.000V664.30h-1.000zM233.00 645.68h1.000V664.30h-1.000zM234.00 647.38h1.000V664.30h-1.000zM235.00 647.66h1.000V664.30h-1.000zM236.00 648.47h1.000V664.30h-1.000zM237.00 656.17h1.000V664.30h-1.000zM238.00 651.38h1.000V664.30h-1.000zM239.00 649.86h1.000V664.30h-1.000zM240.00 649.52h1.000V664.30h-1.000zM241.00 649.57h1.000V664.30h-1.000zM242.00 651.66h1.000V664.30h-1.000zM243.00 656.88h1.000V664.30h-1.000zM244.00 652.66h1.000V664.30h-1.000zM245.00 651.49h1.000V664.30h-1.000zM246.00 650.48h1.000V664.30h-1.000zM247.00 651.34h1.000V664.30h-1.000zM248.00 651.73h1.000V664.30h-1.000zM249.00 657.19h1.000V664.30h-1.000zM250.00 653.09h1.000V664.30h-1.000zM251.00 649.79h1.000V664.30h-1.000zM252.00 649.17h1.000V664.30h-1.000zM253.00 648.08h1.000V664.30h-1.000zM254.00 647.79h1.000V664.30h-1.000zM255.00 655.19h1.000V664.30h-1.000zM257.00 643.83h1.000V664.30h-1.000zM258.00 645.91h1.000V664.30h-1.000zM259.00 644.19h1.000V664.30h-1.000zM260.00 644.88h1.000V664.30h-1.000zM261.00 654.18h1.000V664.30h-1.000zM262.00 645.10h1.000V664.30h-1.000zM263.00 641.77h1.000V664.30h-1.000zM264.00 641.91h1.000V664.30h-1.000zM265.00 639.21h1.000V664.30h-1.000zM266.00 642.13h1.000V664.30h-1.000zM267.00 651.94h1.000V664.30h-1.000zM268.00 643.15h1.000V664.30h-1.000zM269.00 635.37h1.000V664.30h-1.000zM270.00 634.29h1.000V664.30h-1.000zM271.00 636.66h1.000V664.30h-1.000zM272.00 634.89h1.000V664.30h-1.000zM273.00 636.84h1.000V664.30h-1.000zM274.00 642.01h1.000V664.30h-1.000zM275.00 633.10h1.000V664.30h-1.000zM276.00 631.25h1.000V664.30h-1.000zM277.00 629.15h1.000V664.30h-1.000zM278.00 630.17h1.000V664.30h-1.000zM279.00 634.05h1.000V664.30h-1.000zM280.00 648.74h1.000V664.30h-1.000zM281.00 611.00h1.000V664.30h-1.000zM282.00 611.00h1.000V664.30h-1.000zM283.00 626.11h1.000V664.30h-1.000zM284.00 624.21h1.000V664.30h-1.000zM285.00 627.46h1.000V664.30h-1.000zM286.00 641.55h1.000V664.30h-1.000zM287.00 625.22h1.000V664.30h-1.000zM288.00 619.18h1.000V664.30h-1.000zM289.00 619.05h1.000V664.30h-1.000zM290.00 620.52h1.000V664.30h-1.000zM291.00 607.70h1.000V664.30h-1.000zM292.00 642.06h1.000V664.30h-1.000zM293.00 623.70h1.000V664.30h-1.000zM294.00 612.92h1.000V664.30h-1.000zM295.00 612.68h1.000V664.30h-1.000zM296.00 608.15h1.000V664.30h-1.000zM297.00 613.66h1.000V664.30h-1.000zM298.00 636.52h1.000V664.30h-1.000zM299.00 621.22h1.000V664.30h-1.000zM300.00 603.74h1.000V664.30h-1.000zM301.00 606.95h1.000V664.30h-1.000zM302.00 610.28h1.000V664.30h-1.000zM303.00 615.97h1.000V664.30h-1.000zM304.00 634.95h1.000V664.30h-1.000zM305.00 617.83h1.000V664.30h-1.000zM306.00 606.59h1.000V664.30h-1.000zM307.00 596.23h1.000V664.30h-1.000zM308.00 596.17h1.000V664.30h-1.000zM309.00 607.78h1.000V664.30h-1.000zM310.00 595.00h1.000V664.30h-1.000zM311.00 606.77h1.000V664.30h-1.000zM312.00 594.17h1.000V664.30h-1.000zM313.00 598.21h1.000V664.30h-1.000zM314.00 599.41h1.000V664.30h-1.000zM315.00 603.71h1.000V664.30h-1.000zM316.00 594.10h1.000V664.30h-1.000zM318.00 601.58h1.000V664.30h-1.000zM319.00 597.62h1.000V664.30h-1.000zM320.00 600.98h1.000V664.30h-1.000zM321.00 598.79h1.000V664.30h-1.000zM322.00 604.20h1.000V664.30h-1.000zM323.00 552.20h1.000V664.30h-1.000zM324.00 584.16h1.000V664.30h-1.000zM325.00 581.86h1.000V664.30h-1.000zM326.00 582.63h1.000V664.30h-1.000zM327.00 579.37h1.000V664.30h-1.000zM328.00 582.95h1.000V664.30h-1.000zM329.00 558.60h1.000V664.30h-1.000zM330.00 560.00h1.000V664.30h-1.000zM331.00 574.39h1.000V664.30h-1.000zM332.00 573.21h1.000V664.30h-1.000zM333.00 575.28h1.000V664.30h-1.000zM334.00 575.06h1.000V664.30h-1.000zM335.00 617.91h1.000V664.30h-1.000zM336.00 574.70h1.000V664.30h-1.000zM337.00 591.77h1.000V664.30h-1.000zM338.00 588.81h1.000V664.30h-1.000zM339.00 591.49h1.000V664.30h-1.000zM340.00 595.85h1.000V664.30h-1.000zM341.00 590.80h1.000V664.30h-1.000zM342.00 610.44h1.000V664.30h-1.000zM343.00 591.69h1.000V664.30h-1.000zM344.00 596.26h1.000V664.30h-1.000zM345.00 595.86h1.000V664.30h-1.000zM346.00 608.62h1.000V664.30h-1.000zM347.00 634.21h1.000V664.30h-1.000zM348.00 584.00h1.000V664.30h-1.000zM349.00 608.82h1.000V664.30h-1.000zM350.00 597.34h1.000V664.30h-1.000zM351.00 601.60h1.000V664.30h-1.000zM352.00 614.41h1.000V664.30h-1.000zM353.00 635.87h1.000V664.30h-1.000zM354.00 603.50h1.000V664.30h-1.000zM355.00 618.63h1.000V664.30h-1.000zM356.00 614.26h1.000V664.30h-1.000zM357.00 616.02h1.000V664.30h-1.000zM358.00 619.31h1.000V664.30h-1.000zM359.00 644.01h1.000V664.30h-1.000zM360.00 629.69h1.000V664.30h-1.000zM361.00 620.16h1.000V664.30h-1.000zM362.00 625.55h1.000V664.30h-1.000zM363.00 626.17h1.000V664.30h-1.000zM364.00 623.98h1.000V664.30h-1.000zM365.00 627.38h1.000V664.30h-1.000zM366.00 637.65h1.000V664.30h-1.000zM367.00 626.11h1.000V664.30h-1.000zM368.00 622.69h1.000V664.30h-1.000zM369.00 623.90h1.000V664.30h-1.000zM370.00 627.69h1.000V664.30h-1.000zM371.00 634.27h1.000V664.30h-1.000zM372.00 645.41h1.000V664.30h-1.000zM373.00 628.64h1.000V664.30h-1.000zM374.00 625.22h1.000V664.30h-1.000zM376.00 633.77h1.000V664.30h-1.000zM377.00 634.81h1.000V664.30h-1.000zM378.00 646.52h1.000V664.30h-1.000zM379.00 640.17h1.000V664.30h-1.000zM380.00 632.21h1.000V664.30h-1.000zM381.00 635.23h1.000V664.30h-1.000zM382.00 634.10h1.000V664.30h-1.000zM383.00 639.51h1.000V664.30h-1.000zM384.00 651.02h1.000V664.30h-1.000zM385.00 642.27h1.000V664.30h-1.000zM386.00 638.85h1.000V664.30h-1.000zM387.00 635.54h1.000V664.30h-1.000zM388.00 635.65h1.000V664.30h-1.000zM389.00 636.54h1.000V664.30h-1.000zM390.00 651.40h1.000V664.30h-1.000zM391.00 642.34h1.000V664.30h-1.000zM392.00 637.50h1.000V664.30h-1.000zM393.00 634.39h1.000V664.30h-1.000zM394.00 633.56h1.000V664.30h-1.000zM395.00 637.95h1.000V664.30h-1.000zM396.00 650.85h1.000V664.30h-1.000zM397.00 639.44h1.000V664.30h-1.000zM398.00 636.15h1.000V664.30h-1.000zM399.00 631.44h1.000V664.30h-1.000zM400.00 632.61h1.000V664.30h-1.000zM401.00 634.27h1.000V664.30h-1.000zM402.00 647.65h1.000V664.30h-1.000zM403.00 639.16h1.000V664.30h-1.000zM404.00 630.50h1.000V664.30h-1.000zM405.00 630.57h1.000V664.30h-1.000zM406.00 627.51h1.000V664.30h-1.000zM407.00 629.93h1.000V664.30h-1.000zM408.00 647.33h1.000V664.30h-1.000zM409.00 635.98h1.000V664.30h-1.000zM410.00 625.74h1.000V664.30h-1.000zM411.00 627.81h1.000V664.30h-1.000zM412.00 616.10h1.000V664.30h-1.000zM413.00 616.10h1.000V664.30h-1.000zM414.00 631.47h1.000V664.30h-1.000zM415.00 635.36h1.000V664.30h-1.000zM416.00 627.51h1.000V664.30h-1.000zM417.00 622.34h1.000V664.30h-1.000zM418.00 627.12h1.000V664.30h-1.000zM419.00 624.53h1.000V664.30h-1.000zM420.00 630.30h1.000V664.30h-1.000zM421.00 646.96h1.000V664.30h-1.000zM422.00 626.10h1.000V664.30h-1.000zM423.00 627.48h1.000V664.30h-1.000zM424.00 633.75h1.000V664.30h-1.000zM425.00 634.90h1.000V664.30h-1.000zM426.00 632.51h1.000V664.30h-1.000zM427.00 648.43h1.000V664.30h-1.000zM428.00 641.77h1.000V664.30h-1.000zM429.00 632.07h1.000V664.30h-1.000zM430.00 635.54h1.000V664.30h-1.000zM431.00 636.59h1.000V664.30h-1.000zM432.00 642.19h1.000V664.30h-1.000zM433.00 651.54h1.000V664.30h-1.000zM434.00 645.46h1.000V664.30h-1.000zM436.00 641.05h1.000V664.30h-1.000zM437.00 643.65h1.000V664.30h-1.000zM438.00 645.23h1.000V664.30h-1.000zM439.00 654.84h1.000V664.30h-1.000zM440.00 647.36h1.000V664.30h-1.000zM441.00 644.35h1.000V664.30h-1.000zM442.00 643.35h1.000V664.30h-1.000zM443.00 645.46h1.000V664.30h-1.000zM444.00 648.07h1.000V664.30h-1.000zM445.00 655.66h1.000V664.30h-1.000zM446.00 650.92h1.000V664.30h-1.000zM447.00 647.54h1.000V664.30h-1.000zM448.00 648.43h1.000V664.30h-1.000zM449.00 650.24h1.000V664.30h-1.000zM450.00 652.06h1.000V664.30h-1.000zM451.00 658.15h1.000V664.30h-1.000zM452.00 653.04h1.000V664.30h-1.000zM453.00 651.73h1.000V664.30h-1.000zM454.00 650.85h1.000V664.30h-1.000zM455.00 653.45h1.000V664.30h-1.000zM456.00 653.12h1.000V664.30h-1.000zM457.00 658.83h1.000V664.30h-1.000zM458.00 656.13h1.000V664.30h-1.000zM459.00 653.77h1.000V664.30h-1.000zM460.00 653.87h1.000V664.30h-1.000zM461.00 653.79h1.000V664.30h-1.000zM462.00 653.94h1.000V664.30h-1.000zM463.00 653.88h1.000V664.30h-1.000zM464.00 655.03h1.000V664.30h-1.000zM465.00 654.64h1.000V664.30h-1.000zM466.00 654.35h1.000V664.30h-1.000zM467.00 654.93h1.000V664.30h-1.000zM468.00 655.83h1.000V664.30h-1.000zM469.00 656.10h1.000V664.30h-1.000zM470.00 659.85h1.000V664.30h-1.000zM471.00 655.49h1.000V664.30h-1.000zM472.00 653.09h1.000V664.30h-1.000zM473.00 654.34h1.000V664.30h-1.000zM474.00 653.41h1.000V664.30h-1.000zM475.00 654.29h1.000V664.30h-1.000zM476.00 658.66h1.000V664.30h-1.000zM477.00 655.23h1.000V664.30h-1.000zM478.00 652.33h1.000V664.30h-1.000zM479.00 650.73h1.000V664.30h-1.000zM480.00 651.71h1.000V664.30h-1.000zM481.00 650.98h1.000V664.30h-1.000zM482.00 656.86h1.000V664.30h-1.000zM483.00 653.51h1.000V664.30h-1.000zM484.00 650.49h1.000V664.30h-1.000zM485.00 649.69h1.000V664.30h-1.000zM486.00 648.77h1.000V664.30h-1.000zM487.00 644.68h1.000V664.30h-1.000zM488.00 650.12h1.000V664.30h-1.000zM489.00 641.91h1.000V664.30h-1.000zM490.00 634.76h1.000V664.30h-1.000zM491.00 630.41h1.000V664.30h-1.000zM492.00 626.72h1.000V664.30h-1.000zM493.00 626.40h1.000V664.30h-1.000zM495.00 630.66h1.000V664.30h-1.000zM496.00 614.32h1.000V664.30h-1.000zM497.00 604.52h1.000V664.30h-1.000zM498.00 604.79h1.000V664.30h-1.000zM499.00 598.39h1.000V664.30h-1.000zM500.00 633.75h1.000V664.30h-1.000zM501.00 612.72h1.000V664.30h-1.000zM502.00 586.62h1.000V664.30h-1.000zM503.00 585.80h1.000V664.30h-1.000zM504.00 589.11h1.000V664.30h-1.000zM505.00 578.59h1.000V664.30h-1.000zM506.00 570.97h1.000V664.30h-1.000zM507.00 548.70h1.000V664.30h-1.000zM508.00 548.70h1.000V664.30h-1.000zM509.00 564.55h1.000V664.30h-1.000zM510.00 547.18h1.000V664.30h-1.000zM511.00 557.76h1.000V664.30h-1.000zM512.00 552.52h1.000V664.30h-1.000zM513.00 612.82h1.000V664.30h-1.000zM514.00 535.40h1.000V664.30h-1.000zM515.00 541.83h1.000V664.30h-1.000zM516.00 551.19h1.000V664.30h-1.000zM517.00 548.45h1.000V664.30h-1.000zM518.00 526.50h1.000V664.30h-1.000zM519.00 602.51h1.000V664.30h-1.000zM520.00 525.90h1.000V664.30h-1.000zM521.00 516.34h1.000V664.30h-1.000zM522.00 540.83h1.000V664.30h-1.000zM523.00 536.88h1.000V664.30h-1.000zM524.00 546.74h1.000V664.30h-1.000zM525.00 534.30h1.000V664.30h-1.000zM526.00 569.81h1.000V664.30h-1.000zM527.00 540.53h1.000V664.30h-1.000zM528.00 533.07h1.000V664.30h-1.000zM529.00 528.64h1.000V664.30h-1.000zM530.00 544.16h1.000V664.30h-1.000zM531.00 596.43h1.000V664.30h-1.000zM532.00 520.00h1.000V664.30h-1.000zM533.00 550.01h1.000V664.30h-1.000zM534.00 531.00h1.000V664.30h-1.000zM535.00 540.53h1.000V664.30h-1.000zM536.00 553.59h1.000V664.30h-1.000zM537.00 603.46h1.000V664.30h-1.000zM538.00 568.32h1.000V664.30h-1.000zM539.00 544.27h1.000V664.30h-1.000zM540.00 556.66h1.000V664.30h-1.000zM541.00 560.12h1.000V664.30h-1.000zM542.00 580.22h1.000V664.30h-1.000zM543.00 621.76h1.000V664.30h-1.000zM544.00 568.60h1.000V664.30h-1.000zM545.00 588.07h1.000V664.30h-1.000zM546.00 575.64h1.000V664.30h-1.000zM547.00 580.07h1.000V664.30h-1.000zM548.00 593.34h1.000V664.30h-1.000zM549.00 632.34h1.000V664.30h-1.000zM550.00 613.37h1.000V664.30h-1.000zM551.00 605.38h1.000V664.30h-1.000zM552.00 601.08h1.000V664.30h-1.000zM553.00 603.88h1.000V664.30h-1.000zM555.00 619.79h1.000V664.30h-1.000zM556.00 630.22h1.000V664.30h-1.000zM557.00 623.00h1.000V664.30h-1.000zM558.00 623.22h1.000V664.30h-1.000zM559.00 626.42h1.000V664.30h-1.000zM560.00 631.90h1.000V664.30h-1.000zM561.00 633.30h1.000V664.30h-1.000zM562.00 648.86h1.000V664.30h-1.000zM563.00 635.74h1.000V664.30h-1.000zM564.00 634.58h1.000V664.30h-1.000zM565.00 638.44h1.000V664.30h-1.000zM566.00 639.86h1.000V664.30h-1.000zM567.00 642.95h1.000V664.30h-1.000zM568.00 653.57h1.000V664.30h-1.000zM569.00 646.67h1.000V664.30h-1.000zM570.00 642.89h1.000V664.30h-1.000zM571.00 645.35h1.000V664.30h-1.000zM572.00 646.77h1.000V664.30h-1.000zM573.00 649.55h1.000V664.30h-1.000zM574.00 655.69h1.000V664.30h-1.000zM575.00 652.01h1.000V664.30h-1.000zM576.00 650.17h1.000V664.30h-1.000zM577.00 650.70h1.000V664.30h-1.000zM578.00 651.37h1.000V664.30h-1.000zM579.00 651.48h1.000V664.30h-1.000zM580.00 658.14h1.000V664.30h-1.000zM581.00 655.16h1.000V664.30h-1.000zM582.00 651.37h1.000V664.30h-1.000zM583.00 651.57h1.000V664.30h-1.000zM584.00 653.97h1.000V664.30h-1.000zM585.00 654.58h1.000V664.30h-1.000zM586.00 658.92h1.000V664.30h-1.000zM587.00 655.00h1.000V664.30h-1.000zM588.00 652.75h1.000V664.30h-1.000zM589.00 653.23h1.000V664.30h-1.000zM590.00 654.51h1.000V664.30h-1.000zM591.00 655.38h1.000V664.30h-1.000zM592.00 659.59h1.000V664.30h-1.000zM593.00 657.35h1.000V664.30h-1.000zM594.00 654.65h1.000V664.30h-1.000zM595.00 653.88h1.000V664.30h-1.000zM596.00 654.49h1.000V664.30h-1.000zM597.00 656.11h1.000V664.30h-1.000zM598.00 661.22h1.000V664.30h-1.000z"/>
<path d="M137.00 659.27h1.000V664.30h-1.000zM197.00 621.87h1.000V664.30h-1.000zM256.00 650.36h1.000V664.30h-1.000zM317.00 611.92h1.000V664.30h-1.000zM375.00 628.30h1.000V664.30h-1.000zM435.00 641.94h1.000V664.30h-1.000zM494.00 644.83h1.000V664.30h-1.000zM554.00 612.56h1.000V664.30h-1.000z" fill="#dedede" shape-rendering="crispEdges"/>
<path class="ln" d="M70.5 664.3 L71.5 664.2 L72.5 663.9 L73.5 663.7 L74.5 663.5 L75.5 663.3 L76.5 663.1 L77.5 662.6 L78.5 662.1 L79.5 661.6 L80.5 661.1 L81.5 660.6 L82.5 660.2 L83.5 659.8 L84.5 659.4 L85.5 659.0 L86.5 658.5 L87.5 658.5 L88.5 658.5 L89.5 658.5 L90.5 658.5 L91.5 658.5 L92.5 658.5 L93.5 658.5 L94.5 658.7 L95.5 658.8 L96.5 659.0 L97.5 659.1 L98.5 659.3 L99.5 659.4 L100.5 659.6 L101.5 659.7 L102.5 659.8 L103.5 660.0 L104.5 660.1 L105.5 660.2 L106.5 660.4 L107.5 660.5 L108.5 660.6 L109.5 660.6 L110.5 660.6 L111.5 660.6 L112.5 660.6 L113.5 660.6 L114.5 660.6 L115.5 660.6 L116.5 660.6 L117.5 660.6 L118.5 660.6 L119.5 660.5 L120.5 660.4 L121.5 660.4 L122.5 660.3 L123.5 660.2 L124.5 660.2 L125.5 660.1 L126.5 660.0 L127.5 660.0 L128.5 659.9 L129.5 659.8 L130.5 659.8 L131.5 659.9 L132.5 660.0 L133.5 660.0 L134.5 660.1 L135.5 660.1 L136.5 660.2 L137.5 659.9 L138.5 659.6 L139.5 659.3 L140.5 659.0 L141.5 658.7 L142.5 658.4 L143.5 658.0 L144.5 657.3 L145.5 656.6 L146.5 656.0 L147.5 655.3 L148.5 654.3 L149.5 652.6 L150.5 650.8 L151.5 649.1 L152.5 647.4 L153.5 645.5 L154.5 643.1 L155.5 640.8 L156.5 638.4 L157.5 636.0 L158.5 633.2 L159.5 630.5 L160.5 627.7 L161.5 625.3 L162.5 623.3 L163.5 621.2 L164.5 619.2 L165.5 617.5 L166.5 616.5 L167.5 615.5 L168.5 614.6 L169.5 613.6 L170.5 612.3 L171.5 609.8 L172.5 607.3 L173.5 604.8 L174.5 601.9 L175.5 599.3 L176.5 600.3 L177.5 601.3 L178.5 602.3 L179.5 603.2 L180.5 604.0 L181.5 604.8 L182.5 605.6 L183.5 606.5 L184.5 607.5 L185.5 608.5 L186.5 609.6 L187.5 612.1 L188.5 614.6 L189.5 617.1 L190.5 619.6 L191.5 622.2 L192.5 624.8 L193.5 626.7 L194.5 627.6 L195.5 628.6 L196.5 628.6 L197.5 628.4 L198.5 628.1 L199.5 628.8 L200.5 630.8 L201.5 632.8 L202.5 634.8 L203.5 636.4 L204.5 638.0 L205.5 639.6 L206.5 641.2 L207.5 642.2 L208.5 643.1 L209.5 643.9 L210.5 644.8 L211.5 645.6 L212.5 646.5 L213.5 646.8 L214.5 647.1 L215.5 647.3 L216.5 647.6 L217.5 647.8 L218.5 648.1 L219.5 648.3 L220.5 648.7 L221.5 649.1 L222.5 649.5 L223.5 649.8 L224.5 650.2 L225.5 650.6 L226.5 650.7 L227.5 650.3 L228.5 649.9 L229.5 649.5 L230.5 649.2 L231.5 648.8 L232.5 648.4 L233.5 648.5 L234.5 648.9 L235.5 649.3 L236.5 649.6 L237.5 650.0 L238.5 650.4 L239.5 650.7 L240.5 650.9 L241.5 651.0 L242.5 651.2 L243.5 651.3 L244.5 651.4 L245.5 651.4 L246.5 651.3 L247.5 651.2 L248.5 651.0 L249.5 650.9 L250.5 650.6 L251.5 650.1 L252.5 649.6 L253.5 649.1 L254.5 648.6 L255.5 648.1 L256.5 647.6 L257.5 647.0 L258.5 646.4 L259.5 645.8 L260.5 645.2 L261.5 644.6 L262.5 643.9 L263.5 643.3 L264.5 642.8 L265.5 642.3 L266.5 641.8 L267.5 641.3 L268.5 640.8 L269.5 640.3 L270.5 639.8 L271.5 639.2 L272.5 638.5 L273.5 637.9 L274.5 637.3 L275.5 636.7 L276.5 636.0 L277.5 635.6 L278.5 635.4 L279.5 635.2 L280.5 635.1 L281.5 634.9 L282.5 634.2 L283.5 631.2 L284.5 628.2 L285.5 625.2 L286.5 623.8 L287.5 622.8 L288.5 621.8 L289.5 621.4 L290.5 621.9 L291.5 622.4 L292.5 622.9 L293.5 621.9 L294.5 620.8 L295.5 619.8 L296.5 617.7 L297.5 615.1 L298.5 612.9 L299.5 613.5 L300.5 614.2 L301.5 614.2 L302.5 613.7 L303.5 613.2 L304.5 612.5 L305.5 611.0 L306.5 609.5 L307.5 608.0 L308.5 606.9 L309.5 605.9 L310.5 604.9 L311.5 604.2 L312.5 604.0 L313.5 603.7 L314.5 603.5 L315.5 604.3 L316.5 605.0 L317.5 605.8 L318.5 606.8 L319.5 607.9 L320.5 609.0 L321.5 605.3 L322.5 598.5 L323.5 594.6 L324.5 592.6 L325.5 590.6 L326.5 588.5 L327.5 586.0 L328.5 583.6 L329.5 581.1 L330.5 579.7 L331.5 578.5 L332.5 578.1 L333.5 580.9 L334.5 583.6 L335.5 586.5 L336.5 589.5 L337.5 592.5 L338.5 595.1 L339.5 597.4 L340.5 599.7 L341.5 601.9 L342.5 603.0 L343.5 603.5 L344.5 603.9 L345.5 604.7 L346.5 605.9 L347.5 607.1 L348.5 608.4 L349.5 609.2 L350.5 610.0 L351.5 610.7 L352.5 612.3 L353.5 614.8 L354.5 617.3 L355.5 619.6 L356.5 620.8 L357.5 621.9 L358.5 623.1 L359.5 624.2 L360.5 625.4 L361.5 626.4 L362.5 627.4 L363.5 628.5 L364.5 629.5 L365.5 630.5 L366.5 630.8 L367.5 631.0 L368.5 631.2 L369.5 631.5 L370.5 631.8 L371.5 632.0 L372.5 632.3 L373.5 632.7 L374.5 633.0 L375.5 633.4 L376.5 633.8 L377.5 634.2 L378.5 634.6 L379.5 635.1 L380.5 635.7 L381.5 636.3 L382.5 636.9 L383.5 637.6 L384.5 638.2 L385.5 638.8 L386.5 639.0 L387.5 639.0 L388.5 639.0 L389.5 639.0 L390.5 639.0 L391.5 639.0 L392.5 639.0 L393.5 638.7 L394.5 638.3 L395.5 637.9 L396.5 637.5 L397.5 637.1 L398.5 636.7 L399.5 636.4 L400.5 635.9 L401.5 635.4 L402.5 634.9 L403.5 634.4 L404.5 633.9 L405.5 633.4 L406.5 632.9 L407.5 632.4 L408.5 631.9 L409.5 631.4 L410.5 630.9 L411.5 630.4 L412.5 629.9 L413.5 629.5 L414.5 629.1 L415.5 628.6 L416.5 628.2 L417.5 628.4 L418.5 629.3 L419.5 630.2 L420.5 631.1 L421.5 631.9 L422.5 632.7 L423.5 633.5 L424.5 634.2 L425.5 635.0 L426.5 635.8 L427.5 636.7 L428.5 637.5 L429.5 638.4 L430.5 639.2 L431.5 640.1 L432.5 640.9 L433.5 641.7 L434.5 642.4 L435.5 643.1 L436.5 643.7 L437.5 644.4 L438.5 645.1 L439.5 645.7 L440.5 646.3 L441.5 646.8 L442.5 647.3 L443.5 647.8 L444.5 648.3 L445.5 648.8 L446.5 649.3 L447.5 649.8 L448.5 650.3 L449.5 650.8 L450.5 651.3 L451.5 651.8 L452.5 652.3 L453.5 652.8 L454.5 653.2 L455.5 653.6 L456.5 654.0 L457.5 654.4 L458.5 654.8 L459.5 654.7 L460.5 654.4 L461.5 654.2 L462.5 653.9 L463.5 654.0 L464.5 654.3 L465.5 654.7 L466.5 655.1 L467.5 655.5 L468.5 655.9 L469.5 655.9 L470.5 655.7 L471.5 655.5 L472.5 655.4 L473.5 655.2 L474.5 655.0 L475.5 654.8 L476.5 654.3 L477.5 653.8 L478.5 653.3 L479.5 652.7 L480.5 652.2 L481.5 651.7 L482.5 651.4 L483.5 651.1 L484.5 650.9 L485.5 650.6 L486.5 650.0 L487.5 645.5 L488.5 641.0 L489.5 638.0 L490.5 636.0 L491.5 634.0 L492.5 632.0 L493.5 629.5 L494.5 626.8 L495.5 624.1 L496.5 620.1 L497.5 615.7 L498.5 611.3 L499.5 606.9 L500.5 603.6 L501.5 600.6 L502.5 597.6 L503.5 594.6 L504.5 589.4 L505.5 584.0 L506.5 578.6 L507.5 575.6 L508.5 572.5 L509.5 569.6 L510.5 567.3 L511.5 565.1 L512.5 562.8 L513.5 560.5 L514.5 558.3 L515.5 556.0 L516.5 553.7 L517.5 551.4 L518.5 549.0 L519.5 547.3 L520.5 547.1 L521.5 546.8 L522.5 546.6 L523.5 546.5 L524.5 546.8 L525.5 547.0 L526.5 547.3 L527.5 547.6 L528.5 548.0 L529.5 548.4 L530.5 548.8 L531.5 549.1 L532.5 549.3 L533.5 549.3 L534.5 549.3 L535.5 550.7 L536.5 552.6 L537.5 556.0 L538.5 560.1 L539.5 564.2 L540.5 568.1 L541.5 571.9 L542.5 575.8 L543.5 579.6 L544.5 584.3 L545.5 588.9 L546.5 591.6 L547.5 594.4 L548.5 597.2 L549.5 599.9 L550.5 602.7 L551.5 605.6 L552.5 608.6 L553.5 611.7 L554.5 614.7 L555.5 617.7 L556.5 620.7 L557.5 623.7 L558.5 626.7 L559.5 629.7 L560.5 632.0 L561.5 634.0 L562.5 636.0 L563.5 637.9 L564.5 639.9 L565.5 641.8 L566.5 642.8 L567.5 643.8 L568.5 644.8 L569.5 645.9 L570.5 646.9 L571.5 647.9 L572.5 648.6 L573.5 649.1 L574.5 649.6 L575.5 650.1 L576.5 650.6 L577.5 651.1 L578.5 651.6 L579.5 652.1 L580.5 652.6 L581.5 652.9 L582.5 653.2 L583.5 653.4 L584.5 653.7 L585.5 653.9 L586.5 654.2 L587.5 654.4 L588.5 654.7 L589.5 654.9 L590.5 655.1 L591.5 655.3 L592.5 655.4 L593.5 655.5 L594.5 655.7 L595.5 655.8 L596.5 656.0 L597.5 656.1 L598.5 657.8 L598.8 658.3"/>
<g class="xl"><text transform="translate(67.20 678.30) rotate(-45)" text-anchor="end">Mar 12, 2020</text><text transform="translate(84.71 678.30) rotate(-45)" text-anchor="end">Apr 01, 2020</text><text transform="translate(102.22 678.30) rotate(-45)" text-anchor="end">Apr 21, 2020</text><text transform="translate(119.73 678.30) rotate(-45)" text-anchor="end">May 11, 2020</text><text transform="translate(137.24 678.30) rotate(-45)" text-anchor="end">May 31, 2020</text><text transform="translate(154.75 678.30) rotate(-45)" text-anchor="end">Jun 20, 2020</text><text transform="translate(172.26 678.30) rotate(-45)" text-anchor="end">Jul 10, 2020</text><text transform="translate(189.77 678.30) rotate(-45)" text-anchor="end">Jul 30, 2020</text><text transform="translate(207.28 678.30) rotate(-45)" text-anchor="end">Aug 19, 2020</text><text transform="translate(224.79 678.30) rotate(-45)" text-anchor="end">Sep 08, 2020</text><text transform="translate(242.30 678.30) rotate(-45)" text-anchor="end">Sep 28, 2020</text><text transform="translate(259.81 678.30) rotate(-45)" text-anchor="end">Oct 18, 2020</text><text transform="translate(277.32 678.30) rotate(-45)" text-anchor="end">Nov 07, 2020</text><text transform="translate(294.83 678.30) rotate(-45)" text-anchor="end">Nov 27, 2020</text><text transform="translate(312.34 678.30) rotate(-45)" text-anchor="end">Dec 17, 2020</text><text transform="translate(329.85 678.30) rotate(-45)" text-anchor="end">Jan 06, 2021</text><text transform="translate(347.36 678.30) rotate(-45)" text-anchor="end">Jan 26, 2021</text><text transform="translate(364.87 678.30) rotate(-45)" text-anchor="end">Feb 15, 2021</text><text transform="translate(382.38 678.30) rotate(-45)" text-anchor="end">Mar 07, 2021</text><text transform="translate(399.89 678.30) rotate(-45)" text-anchor="end">Mar 27, 2021</text><text transform="translate(417.40 678.30) rotate(-45)" text-anchor="end">Apr 16, 2021</text><text transform="translate(434.91 678.30) rotate(-45)" text-anchor="end">May 06, 2021</text><text transform="translate(452.42 678.30) rotate(-45)" text-anchor="end">May 26, 2021</text><text transform="translate(469.93 678.30) rotate(-45)" text-anchor="end">Jun 15, 2021</text><text transform="translate(487.44 678.30) rotate(-45)" text-anchor="end">Jul 05, 2021</text><text transform="translate(504.95 678.30) rotate(-45)" text-anchor="end">Jul 25, 2021</text><text transform="translate(522.46 678.30) rotate(-45)" text-anchor="end">Aug 14, 2021</text><text transform="translate(539.97 678.30) rotate(-45)" text-anchor="end">Sep 03, 2021</text><text transform="translate(557.48 678.30) rotate(-45)" text-anchor="end">Sep 23, 2021</text><text transform="translate(574.99 678.30) rotate(-45)" text-anchor="end">Oct 13, 2021</text><text transform="translate(592.50 678.30) rotate(-45)" text-anchor="end">Nov 02, 2021</text></g>
<g>
<circle cx="92.8" cy="747.5" r="5.2" fill="#999"/>
<text class="lg" x="103.8" y="751.9" letter-spacing="-0.15">Daily Cases</text>
<path d="M181.5 748H195" stroke="#ccc" stroke-width="2"/><circle cx="187.9" cy="748" r="3.3" fill="#ccc"/>
<text class="lgo" x="199.8" y="751.9">3-day moving average</text>
<rect x="334.4" y="744.9" width="10.6" height="10.6" rx="2" fill="#fff" stroke="#777" stroke-width="1"/>
<path d="M351.5 747.7H365.5" stroke="#3a8fa5" stroke-width="2"/><path d="M358.8 744.6L361.9 747.7L358.8 750.8L355.7 747.7Z" fill="#3a8fa5"/>
<text class="lg" x="370.5" y="751.9">7-day moving average</text>
<rect x="505.3" y="744.6" width="11.2" height="11.2" rx="2" fill="#1b58bf"/>
<path d="M507.7 750.3L510.3 753L514.3 747" fill="none" stroke="#fff" stroke-width="1.6" stroke-linecap="round" stroke-linejoin="round"/>
</g>
</svg>
</body></html>
